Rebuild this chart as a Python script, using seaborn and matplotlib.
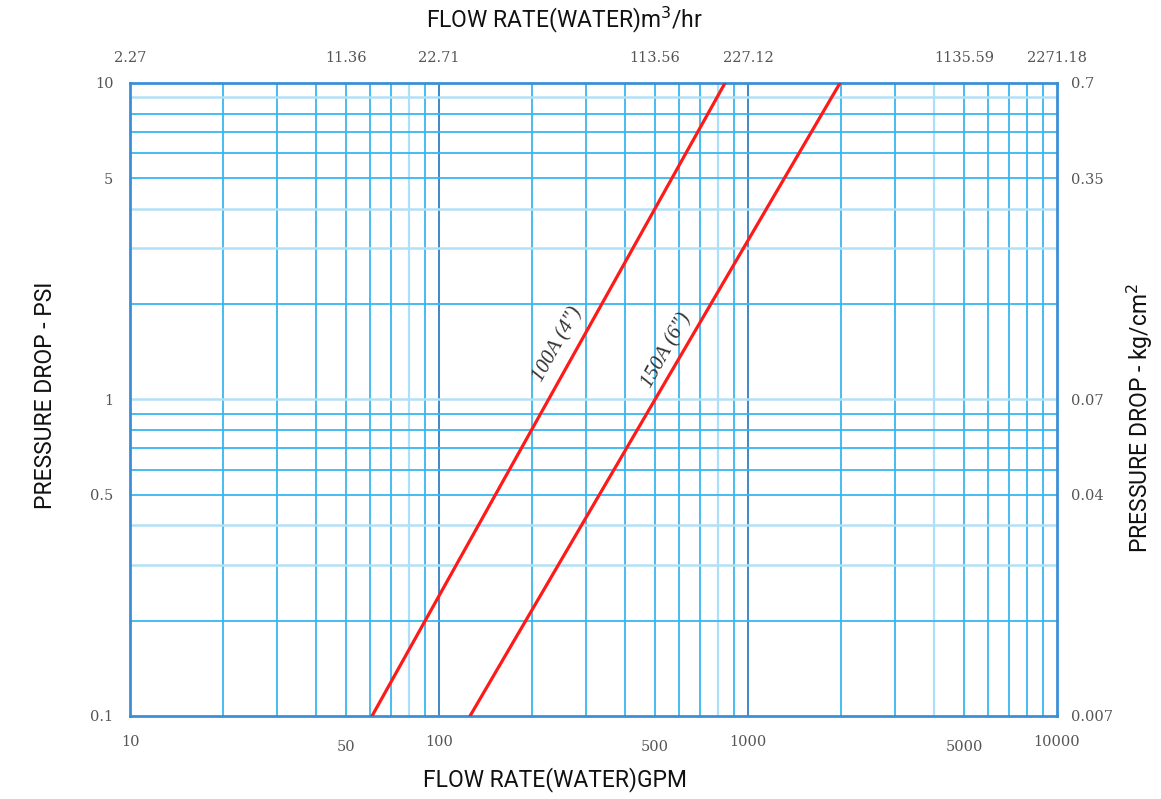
import matplotlib
matplotlib.use("Agg")
import matplotlib.pyplot as plt
import seaborn as sns
import pandas as pd

# ---- data ----
series_names = ["100A (4\")", "150A (6\")"]
flow_100A = [60.7, 843]      # GPM
dp_100A = [0.1, 10]          # PSI
flow_150A = [126, 1986]
dp_150A = [0.1, 10]

gpm_ticks = [10, 50, 100, 500, 1000, 5000, 10000]
gpm_labels = ["10", "50", "100", "500", "1000", "5000", "10000"]
m3hr_labels = ["2.27", "11.36", "22.71", "113.56", "227.12", "1135.59", "2271.18"]
psi_ticks = [0.1, 0.5, 1, 5, 10]
psi_labels = ["0.1", "0.5", "1", "5", "10"]
kg_labels = ["0.007", "0.04", "0.07", "0.35", "0.7"]

x_grid_normal = [20, 30, 40, 50, 60, 70, 90, 200, 300, 400, 500, 600, 700, 900,
                 2000, 3000, 5000, 6000, 7000, 8000, 9000]
x_grid_light = [80, 800, 4000]
x_grid_dark = [100, 1000]
y_grid_normal = [0.2, 0.5, 0.6, 0.7, 0.8, 0.9, 2, 5, 6, 7, 8]
y_grid_light = [0.3, 0.4, 1, 3, 4, 9]

df = pd.DataFrame({
    "flow": flow_100A + flow_150A,
    "dp": dp_100A + dp_150A,
    "size": [series_names[0]] * 2 + [series_names[1]] * 2,
})

sns.set_style("white")
fig = plt.figure(figsize=(11.61, 7.99), dpi=100)
ax = fig.add_axes([0.112, 0.1039, 0.7984, 0.7923])

ax.set_xscale("log")
ax.set_yscale("log")
ax.set_xlim(10, 10000)
ax.set_ylim(0.1, 10)

blue = "#38b6f0"
for v in x_grid_normal:
    ax.axvline(v, color=blue, lw=1.3, zorder=1)
for v in x_grid_light:
    ax.axvline(v, color="#ace0f8", lw=1.6, zorder=1)
for v in x_grid_dark:
    ax.axvline(v, color="#2f7fc4", lw=1.3, zorder=1)
for v in y_grid_normal:
    ax.axhline(v, color=blue, lw=1.3, zorder=1)
for v in y_grid_light:
    ax.axhline(v, color="#b2e0f6", lw=1.8, zorder=1)

sns.lineplot(data=df, x="flow", y="dp", hue="size", palette=["#ff1a1a", "#ff1a1a"],
             linewidth=2.3, legend=False, ax=ax, zorder=3)

for s in ax.spines.values():
    s.set_color("#3a8fd8")
    s.set_linewidth(2)

serif = ["DejaVu Serif"]
tick_col = "#555555"
tsize = 10.5
ax.set_xticks(gpm_ticks)
ax.set_xticklabels(gpm_labels)
ax.set_yticks(psi_ticks)
ax.set_yticklabels(psi_labels)
ax.minorticks_off()
ax.tick_params(axis="both", length=0, labelsize=tsize, labelcolor=tick_col)
ax.tick_params(axis="x", pad=14)
ax.tick_params(axis="y", pad=12)
for t in ax.get_xticklabels() + ax.get_yticklabels():
    t.set_family(serif)
for i, t in enumerate(ax.get_xticklabels()):
    if i % 2 == 1:
        t.set_y(-0.008)

ax_top = ax.twiny()
ax_top.set_xscale("log")
ax_top.set_xlim(10, 10000)
ax_top.set_xticks(gpm_ticks)
ax_top.set_xticklabels(m3hr_labels)
ax_top.minorticks_off()
ax_top.tick_params(axis="x", length=0, labelsize=tsize, labelcolor=tick_col, pad=13)
for t in ax_top.get_xticklabels():
    t.set_family(serif)
ax_top.set_xlabel("FLOW RATE(WATER)m$^3$/hr", fontsize=16.5, family="Roboto",
                  color="#111111", va="center", ha="center")
ax_top.xaxis.set_label_coords(0.469, 1.0995)
for s in ax_top.spines.values():
    s.set_visible(False)

ax_r = ax.twinx()
ax_r.set_yscale("log")
ax_r.set_ylim(0.1, 10)
ax_r.set_yticks(psi_ticks)
ax_r.set_yticklabels(kg_labels)
ax_r.minorticks_off()
ax_r.tick_params(axis="y", length=0, labelsize=tsize, labelcolor=tick_col, pad=10)
for t in ax_r.get_yticklabels():
    t.set_family(serif)
ax_r.set_ylabel("PRESSURE DROP - kg/cm$^2$", fontsize=16.5, family="Roboto",
                color="#111111", va="center", ha="center")
ax_r.yaxis.set_label_coords(1.0895, 0.471)
for s in ax_r.spines.values():
    s.set_visible(False)

ax.set_xlabel("FLOW RATE(WATER)GPM", fontsize=16.5, family="Roboto",
              color="#111111", va="center", ha="center")
ax.xaxis.set_label_coords(0.458, -0.101)
ax.set_ylabel("PRESSURE DROP - PSI", fontsize=16.5, family="Roboto",
              color="#111111", va="center", ha="center")
ax.yaxis.set_label_coords(-0.0917, 0.507)

# line labels
ax.text(243, 1.49, series_names[0], rotation=61, family=["Liberation Serif"], style="italic",
        fontsize=15, color="#333333", ha="center", va="center", zorder=4)
ax.text(547, 1.43, series_names[1], rotation=61, family=["Liberation Serif"], style="italic",
        fontsize=15, color="#333333", ha="center", va="center", zorder=4)

fig.savefig("out.png", dpi=100, facecolor="white")
